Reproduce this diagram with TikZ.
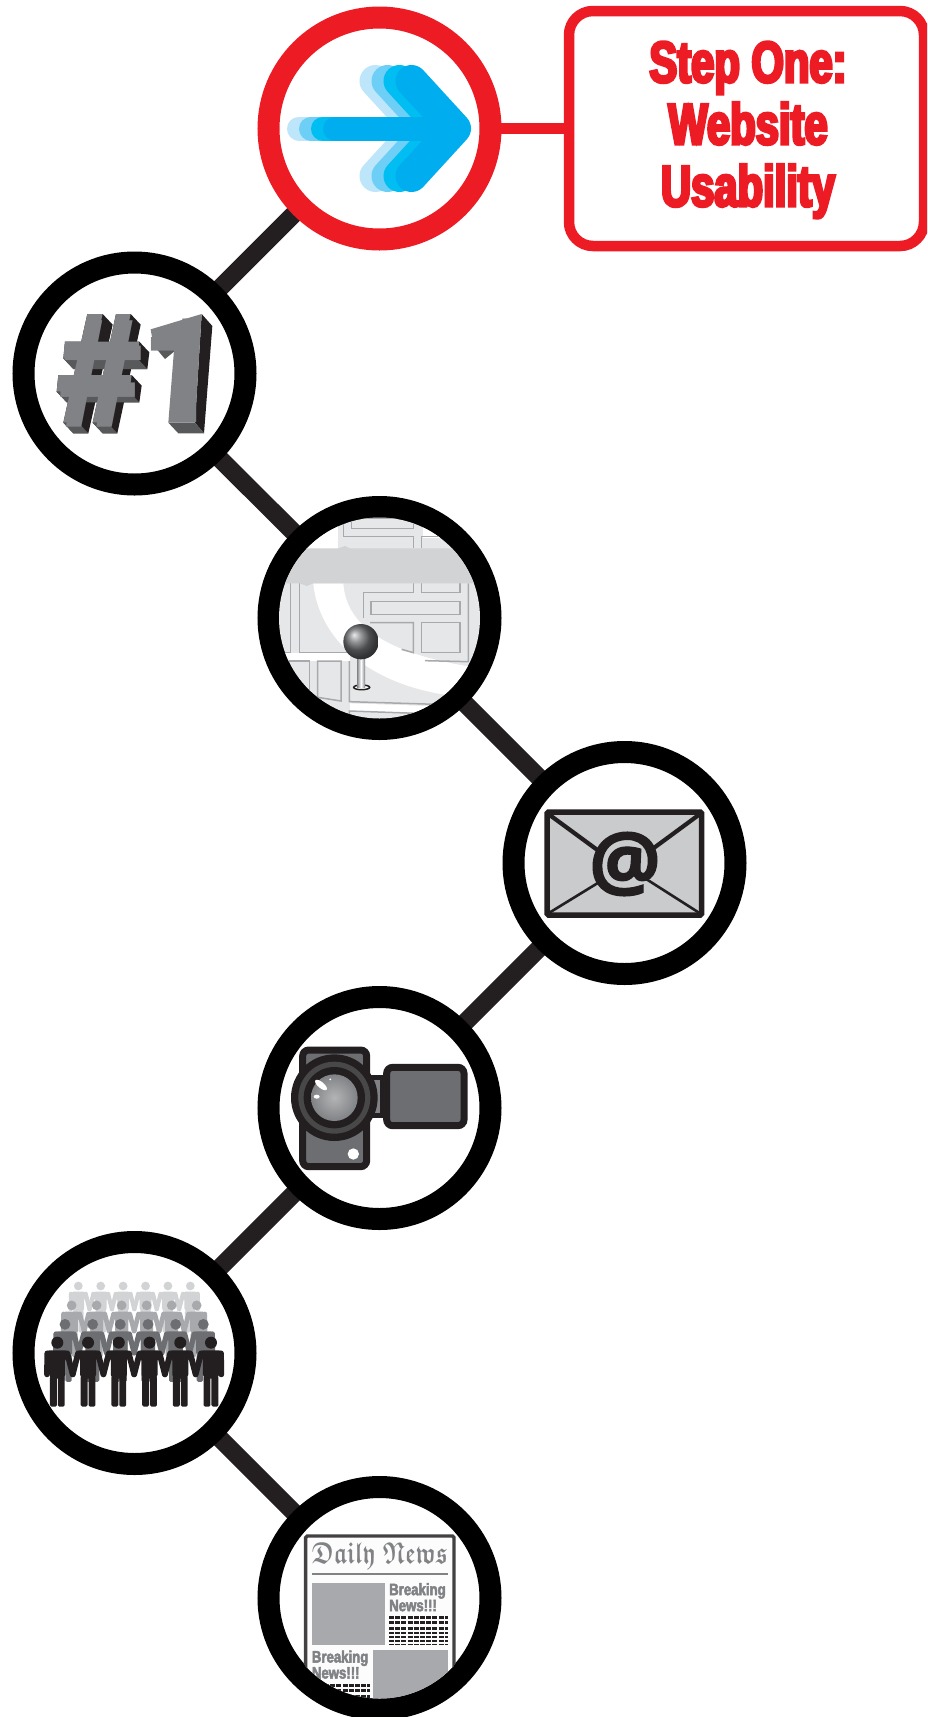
\documentclass[tikz,border=0pt]{standalone}
\usepackage{amsfonts}
\usepackage{fontspec}
\usepackage{graphicx}
\usetikzlibrary{calc}
\newfontfamily\condfont[FakeStretch=0.72,FakeBold=5]{Liberation Sans Bold}
\newfontfamily\newsfont[FakeStretch=0.8,FakeBold=3]{Liberation Sans Bold}
\newfontfamily\numfont{TeX Gyre Heros}
\newfontfamily\atfont[FakeBold=1.5]{Open Sans Bold}
\definecolor{redc}{HTML}{ED1C24}
\definecolor{darkc}{HTML}{231F20}
\definecolor{g1}{HTML}{D1D3D4}
\definecolor{g2}{HTML}{A7A9AC}
\definecolor{g3}{HTML}{808285}
\definecolor{g4}{HTML}{6D6E71}
\definecolor{g5}{HTML}{58595B}
\definecolor{bgg}{HTML}{E6E7E8}
\definecolor{a1}{HTML}{BDE6FB}
\definecolor{a2}{HTML}{6DCFF6}
\definecolor{a3}{HTML}{00BDF2}
\definecolor{a4}{HTML}{00AEEF}
\pgfdeclarelayer{bg}
\pgfsetlayers{bg,main}
\tikzset{
  ringb/.style={circle,draw=black,fill=white,line width=22pt,minimum size=222pt,inner sep=0pt},
  ringr/.style={ringb,draw=redc},
  conn/.style={draw=darkc,line width=18pt},
  connr/.style={draw=redc,line width=11pt},
  stepbox/.style={draw=redc,fill=white,line width=10.5pt,rounded corners=24pt,minimum width=355pt,minimum height=235pt,inner sep=0pt},
  steptext/.style={text=redc,align=center,inner sep=0pt,font={\fontsize{58}{62}\selectfont\condfont}},
  mapline/.style={draw=g2,line width=1.5pt},
  arrowshaft/.style={line width=24pt,line cap=round},
  arrowhead/.style={line width=32pt,line cap=round,line join=round},
  newstext/.style={text=g3,align=left,inner sep=0pt,anchor=north west,font={\fontsize{16.5}{16}\selectfont\newsfont}},
  camline/.style={draw=darkc,line width=7pt},
  dashrow/.style={draw=darkc,dash pattern=on 5pt off 1.2pt},
}
% person: x, y of head, scale, colour, left arm end, right arm end
\newcommand{\persona}[6]{%
  \begin{scope}[shift={(#1,#2)},scale=#3]
    \fill[#4] (0,0) circle (18);
    \fill[#4,rounded corners=4pt] (-36,23) -- (36,23) -- (38,42) -- (24,42) -- (24,108) -- (-24,108) -- (-24,42) -- (-38,42) -- cycle;
    \fill[#4,rounded corners=1.5pt] (-22,100) -- (-1.5,100) -- (-1.5,192) -- (-22,192) -- cycle;
    \fill[#4,rounded corners=1.5pt] (22,100) -- (1.5,100) -- (1.5,192) -- (22,192) -- cycle;
    \draw[#4,line width=#3*5.8pt,line cap=round] (-30,32) -- (#5,95);
    \draw[#4,line width=#3*5.8pt,line cap=round] (30,32) -- (#6,95);
  \end{scope}}
\newcommand{\peoplerow}[5]{% y, x0, dx, scale, colour
  \foreach \k in {0,...,5}{
    \pgfmathsetmacro{\px}{#2+\k*#3}
    \pgfmathsetmacro{\la}{\k==0?-31:-46}
    \pgfmathsetmacro{\ra}{\k==5?31:46}
    \persona{\px}{#1}{#4}{#5}{\la}{\ra}
  }}
\newcommand{\arrowlayer}[2]{%
  \draw[#2,arrowshaft] (#1-120,128.5) -- (#1,128.5);
  \draw[#2,arrowhead] (#1-43.5,128.5-47.5) -- (#1,128.5) -- (#1-43.5,128.5+47.5);}
% extruded bar: TL, TR, BR, BL
\newcommand{\barside}[8]{\fill[darkc] (#1,#2) -- (#3,#4) -- ({#3+30},{#4+32}) -- ({#5+30},{#6+32}) -- ({#7+30},{#8+32}) -- (#7,#8) -- cycle;}
\newcommand{\barbottom}[8]{\fill[g5] (#7,#8) -- (#5,#6) -- ({#5+30},{#6+32}) -- ({#7+30},{#8+32}) -- cycle;}
\newcommand{\barfront}[8]{\fill[g3] (#1,#2) -- (#3,#4) -- (#5,#6) -- (#7,#8) -- cycle;}
\begin{document}
\begin{tikzpicture}[x=1pt,y=-1pt]
\useasboundingbox (0,0) rectangle (927,1717);
\clip (0,0) rectangle (927,1717);

% rings
\node[ringr] (c1) at (379.5,128.5) {};
\node[ringb] (c2) at (134.5,373.5) {};
\node[ringb] (c3) at (379.5,618) {};
\node[ringb] (c4) at (624.5,863) {};
\node[ringb] (c5) at (379.5,1108) {};
\node[ringb] (c6) at (134.5,1353) {};
\node[ringb] (c7) at (379.5,1598) {};
\node[stepbox] (box) at (746.5,128.5) {};
\node[steptext] (boxtext) at (748,130) {Step One:\\Website\\Usability};

\begin{pgfonlayer}{bg}
  \draw[conn] (c1.center) -- (c2.center);
  \draw[conn] (c2.center) -- (c3.center);
  \draw[conn] (c3.center) -- (c4.center);
  \draw[conn] (c4.center) -- (c5.center);
  \draw[conn] (c5.center) -- (c6.center);
  \draw[conn] (c6.center) -- (c7.center);
  \draw[connr] (c1.center) -- (box.center);
\end{pgfonlayer}

% arrow
\arrowlayer{419}{a1}
\arrowlayer{431}{a2}
\arrowlayer{443}{a3}
\arrowlayer{455}{a4}

% #1
\begin{scope}[shift={(0,240)},scale=1/3]
  \barside{262}{222}{308}{222}{235}{548}{190}{548}
  \barside{348}{222}{392}{222}{322}{548}{278}{548}
  \barside{195}{305}{418}{305}{412}{355}{190}{355}
  \barside{175}{405}{395}{405}{388}{455}{170}{455}
  \barbottom{262}{222}{308}{222}{235}{548}{190}{548}
  \barbottom{348}{222}{392}{222}{322}{548}{278}{548}
  \barbottom{195}{305}{418}{305}{412}{355}{190}{355}
  \barbottom{175}{405}{395}{405}{388}{455}{170}{455}
  \barfront{262}{222}{308}{222}{235}{548}{190}{548}
  \barfront{348}{222}{392}{222}{322}{548}{278}{548}
  \barfront{195}{305}{418}{305}{412}{355}{190}{355}
  \barfront{175}{405}{395}{405}{388}{455}{170}{455}
  \fill[darkc] (605,222) -- (637,258) -- (612,580) -- (585,548) -- cycle;
  \fill[g5] (505,548) -- (585,548) -- (612,580) -- (535,580) -- cycle;
  \fill[g5] (460,315) -- (525,292) -- (522,335) -- (495,357) -- cycle;
  \fill[g3] (452,268) -- (605,222) -- (585,548) -- (505,548) -- (525,292) -- (460,315) -- cycle;
  \node[inner sep=0pt,anchor=base west,text=g3,font={\fontsize{146}{146}\selectfont\numfont\bfseries}] (num) at (180,548) {\#1};
\end{scope}

% map
\begin{scope}
  \clip (c3.center) circle (100.5);
  \begin{scope}[shift={(250,490)},scale=1/3]
    \fill[bgg] (60,60) rectangle (720,720);
    \fill[white] (60,60) rectangle (265,180);
    \fill[white] (520,60) rectangle (720,145);
    \fill[white] (60,490) rectangle (300,513);
    \fill[white] (190,280) .. controls (200,400) and (300,570) .. (590,615) -- (720,630) -- (720,535) -- (660,530) .. controls (480,500) and (290,440) .. (280,280) -- cycle;
    \fill[white] (300,640) -- (600,650) -- (560,670) -- (300,662) -- cycle;
    \draw[mapline] (305,85) rectangle (490,115);
    \draw[mapline] (280,95) -- (280,140) -- (490,140) -- (490,175);
    \draw[mapline] (515,175) -- (515,140) -- (610,140);
    \draw[mapline] (490,280) -- (490,307) -- (340,307) -- (340,385);
    \draw[mapline] (360,398) -- (490,398) -- (490,488) -- (455,478);
    \draw[mapline] (515,280) -- (515,307) -- (630,307) -- (630,280);
    \draw[mapline] (363,335) rectangle (630,373);
    \draw[mapline] (515,398) rectangle (630,488);
    \draw[mapline] (655,280) -- (655,515) -- (525,512);
    \draw[mapline] (122,280) -- (122,488) -- (85,488);
    \draw[mapline] (148,280) -- (148,488) -- (300,488);
    \draw[mapline] (100,513) -- (178,513) -- (178,610);
    \draw[mapline] (203,513) -- (273,513) -- (273,633) -- (203,622) -- cycle;
    \draw[mapline] (298,513) -- (298,635) -- (560,643);
    \draw[mapline] (298,680) -- (298,663) -- (500,670);
    \fill[g1] (60,175) -- (265,175) -- (285,168) -- (300,175) -- (720,175) -- (720,280) -- (190,280) -- (170,288) -- (150,280) -- (60,280) -- cycle;
    \draw[darkc,line width=1.5pt,fill=white] (335,592) ellipse (24 and 7);
    \shade[left color=g3,right color=g3,middle color=white] (321,505) rectangle (345,592);
    \shade[ball color=g4] (333,455) circle (53);
  \end{scope}
\end{scope}

% envelope
\begin{scope}[shift={(500,740)},scale=1/3]
  \draw[darkc,line width=5.5pt,fill=g1!80!g2,rounded corners=1.5pt] (141,216) rectangle (605,525);
  \draw[darkc,line width=4.2pt] (145,222) -- (295,332);
  \draw[darkc,line width=4.2pt] (600,222) -- (460,325);
  \draw[darkc,line width=2.6pt] (145,520) -- (295,428);
  \draw[darkc,line width=2.6pt] (600,520) -- (440,418);
  \node[inner sep=0pt,text=darkc,font={\fontsize{80}{80}\selectfont\atfont}] (at) at (375,372) {@};
\end{scope}

% camera
\begin{scope}[shift={(255,985)},scale=1/3]
  \draw[camline,fill=g4,rounded corners=6pt] (143,195) rectangle (335,545);
  \draw[darkc,line width=5pt,fill=g3] (345,278) rectangle (382,392);
  \draw[camline,fill=g4,rounded corners=6pt] (395,247) rectangle (627,422);
  \fill[darkc] (238,338) circle (130);
  \fill[g5!70!darkc] (238,338) circle (108);
  \fill[darkc] (238,338) circle (92);
  \shade[inner color=g3!60!white,outer color=g3] (238,338) circle (70);
  \fill[white,rotate around={-40:(198,300)}] (198,300) ellipse (22 and 9);
  \fill[white] (185,335) ellipse (9 and 6);
  \fill[white] (226,283) circle (3);
  \fill[white] (295,507) circle (17);
\end{scope}

% people
\begin{scope}[shift={(10,1230)},scale=1/3]
  \peoplerow{168}{205}{67.2}{0.73}{g1}
  \peoplerow{226}{185}{75}{0.81}{g2}
  \peoplerow{283}{165}{83}{0.9}{g4}
  \peoplerow{338}{142}{92.2}{1}{darkc}
\end{scope}

% newspaper
\begin{scope}
  \clip (c7.center) circle (100.5);
  \begin{scope}[shift={(255,1477)},scale=1/3]
    \draw[darkc!85!white,line width=3.4pt,fill=white!94!g1,rounded corners=1.5pt] (152,177) rectangle (597,760);
    \node[inner sep=0pt,anchor=base west,text=g3] (title) at (170,258) {\resizebox{136pt}{21pt}{\boldmath$\mathfrak{Daily}\ \mathfrak{News}$}};
    \draw[g3,line width=2.4pt] (170,291) -- (578,291);
    \fill[g2] (170,318) rectangle (390,505);
    \fill[g2] (355,520) rectangle (578,700);
    \node[newstext] (head1) at (402,318) {Breaking\\News!!!};
    \node[newstext] (head2) at (170,520) {Breaking\\News!!!};
    \foreach \y/\w in {421/3,437/3,453/3,468/2.6,481/2.2,492/1.6,503/1.2}{
      \draw[dashrow,line width=\w pt] (402,\y) -- (578,\y);
    }
    \foreach \y/\w in {625/3,641/3,657/3}{
      \draw[dashrow,line width=\w pt] (170,\y) -- (345,\y);
    }
  \end{scope}
\end{scope}
\end{tikzpicture}
\end{document}
